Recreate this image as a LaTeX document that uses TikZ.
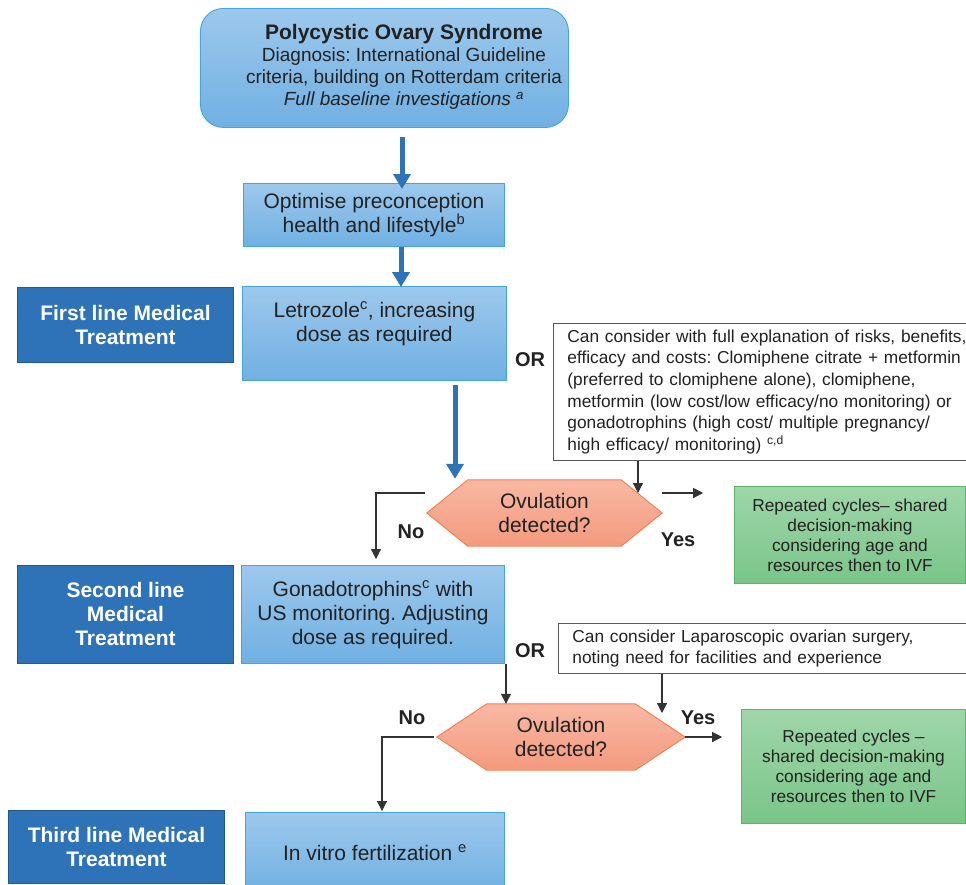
\documentclass[tikz,border=0pt]{standalone}
\usepackage{fontspec}
\setmainfont{Liberation Sans}
\usepackage{xcolor}
\usetikzlibrary{arrows.meta}
\usetikzlibrary{backgrounds}
\frenchspacing

\definecolor{boxtop}{HTML}{9DC8EC}
\definecolor{boxbot}{HTML}{70B0E2}
\definecolor{boxedge}{HTML}{3FA6E0}
\definecolor{linefill}{HTML}{2E72B8}
\definecolor{lineedge}{HTML}{1F5A96}
\definecolor{flowblue}{HTML}{2E72B8}
\definecolor{hextop}{HTML}{F9B8A4}
\definecolor{hexbot}{HTML}{F39A7E}
\definecolor{hexedge}{HTML}{F47D4A}
\definecolor{restop}{HTML}{9FD6AA}
\definecolor{resbot}{HTML}{7AC588}
\definecolor{resedge}{HTML}{56B867}
\definecolor{ink}{HTML}{222222}

\tikzset{
  medbox/.style={draw=boxedge, line width=0.9pt, top color=boxtop, bottom color=boxbot, text=ink, align=center, inner sep=0pt, anchor=north west, font=\fontsize{21}{24}\selectfont},
  linebox/.style={draw=lineedge, line width=0.9pt, fill=linefill, text=white, align=center, inner sep=0pt, anchor=north west, minimum width=216pt, font=\bfseries\fontsize{21}{24}\selectfont},
  notebox/.style={draw=black!65, line width=0.9pt, fill=white, text=ink, align=left, anchor=north west, inner xsep=14pt, inner ysep=0pt, text width=400pt, font=\fontsize{17.3}{21.7}\selectfont},
  resbox/.style={draw=resedge, line width=0.9pt, top color=restop, bottom color=resbot, text=ink, align=center, inner sep=0pt, anchor=north west, font=\fontsize{17.3}{20}\selectfont},
  hexnode/.style={text=ink, align=center, inner sep=0pt, minimum height=66pt, font=\fontsize{21}{24}\selectfont},
  hexpath/.style={draw=hexedge, line width=0.9pt, top color=hextop, bottom color=hexbot},
  bluearrow/.style={draw=flowblue, line width=5pt, -{Triangle[width=17pt,length=15pt]}},
  thinarrow/.style={draw=black!80, line width=1.2pt, -{Triangle[width=10pt,length=10pt]}},
  lbl/.style={text=ink, font=\bfseries\fontsize{20}{24}\selectfont}
}

\begin{document}
\begin{tikzpicture}[x=1pt, y=-1pt]
	\useasboundingbox (0,0) rectangle (966,884);

	\node[medbox, rounded corners=23pt, minimum width=368pt, minimum height=119pt] (pcos) at (200,8) {};
	\node[text=ink, align=center, font=\fontsize{19}{22}\selectfont] (pcostxt) at (404,67) {{\bfseries\fontsize{21}{24}\selectfont Polycystic Ovary Syndrome}\\Diagnosis: International Guideline\\criteria, building on Rotterdam criteria\\\itshape Full baseline investigations \textsuperscript{a}};

	\node[medbox, minimum width=261pt, minimum height=63pt] (optim) at (243,183) {Optimise preconception\\health and lifestyle\textsuperscript{b}};
	\node[medbox, minimum width=264pt, minimum height=94pt] (letro) at (242,286) {Letrozole\textsuperscript{c}, increasing\\dose as required\\\mbox{}};
	\node[medbox, minimum width=263pt, minimum height=98pt] (gonad) at (241,565) {Gonadotrophins\textsuperscript{c} with\\US monitoring. Adjusting\\dose as required.};
	\node[medbox, minimum width=259pt, minimum height=80pt] (ivf) at (245,812) {In vitro fertilization \textsuperscript{e}};

	\node[linebox, minimum height=75pt] (first) at (17,287) {First line Medical\\Treatment};
	\node[linebox, minimum height=98pt] (second) at (17,565) {Second line\\Medical\\Treatment};
	\node[linebox, minimum height=73pt] (third) at (8,810) {Third line Medical\\Treatment};

	\node[notebox, minimum height=137pt] (note1) at (553,323) {Can consider with full explanation of risks, benefits,\\efficacy and costs: Clomiphene citrate + metformin\\(preferred to clomiphene alone), clomiphene,\\metformin (low cost/low efficacy/no monitoring) or\\gonadotrophins (high cost/ multiple pregnancy/\\high efficacy/ monitoring) \textsuperscript{c,d}};
	\node[notebox, minimum height=50pt] (note2) at (558,623) {Can consider Laparoscopic ovarian surgery,\\noting need for facilities and experience};

	\node[resbox, minimum width=231pt, minimum height=97pt] (res1) at (734,486) {Repeated cycles– shared\\decision-making\\considering age and\\resources then to IVF};
	\node[resbox, minimum width=224pt, minimum height=114pt] (res2) at (741,709) {Repeated cycles –\\shared decision-making\\considering age and\\resources then to IVF};

	\node[hexnode, minimum width=235pt] (ov1) at (544.5,513) {Ovulation\\detected?};
	\node[hexnode, minimum width=248pt] (ov2) at (561,737) {Ovulation\\detected?};
	\begin{scope}[on background layer]
		\foreach \hx/\cut in {ov1/41, ov2/50}
			\path[hexpath] (\hx.west) -- ([xshift=\cut pt]\hx.north west) -- ([xshift=-\cut pt]\hx.north east) -- (\hx.east) -- ([xshift=-\cut pt]\hx.south east) -- ([xshift=\cut pt]\hx.south west) -- cycle;
	\end{scope}

	\node[lbl] (or1) at (530,360) {OR};
	\node[lbl] (or2) at (530,651) {OR};
	\node[lbl] (no1) at (411,532) {No};
	\node[lbl] (yes1) at (678,540) {Yes};
	\node[lbl] (no2) at (412,718) {No};
	\node[lbl] (yes2) at (698,718) {Yes};

	\coordinate (ov1in) at (638,493);
	\coordinate (ov2in) at (662,713);

	\draw[bluearrow, shorten <=9pt, shorten >=-6pt] (pcos.south -| 402,0) -- (optim.north -| 402,0);
	\draw[bluearrow, shorten >=-1pt] (optim.south -| 401,0) -- (letro.north -| 401,0);
	\draw[bluearrow, shorten <=4pt, shorten >=1pt] (letro.south -| 455,0) -- (ov1.north -| 455,0);

	\draw[thinarrow] (note1.south -| ov1in) -- (ov1in);
	\draw[thinarrow] (ov1.east |- ov1in) -- ++(41,0);
	\draw[thinarrow, shorten >=6pt] ([xshift=-2pt]ov1.west |- ov1in) -| (gonad.north -| 376,0);

	\draw[thinarrow] (gonad.south -| 506,0) -- (ov2.north -| 506,0);
	\draw[thinarrow] (note2.south -| ov2in) -- (ov2in);
	\draw[thinarrow] (ov2.east) -- ++(37,0);
	\draw[thinarrow, shorten >=1pt] ([xshift=-3pt]ov2.west) -| (ivf.north -| 382,0);
\end{tikzpicture}
\end{document}
